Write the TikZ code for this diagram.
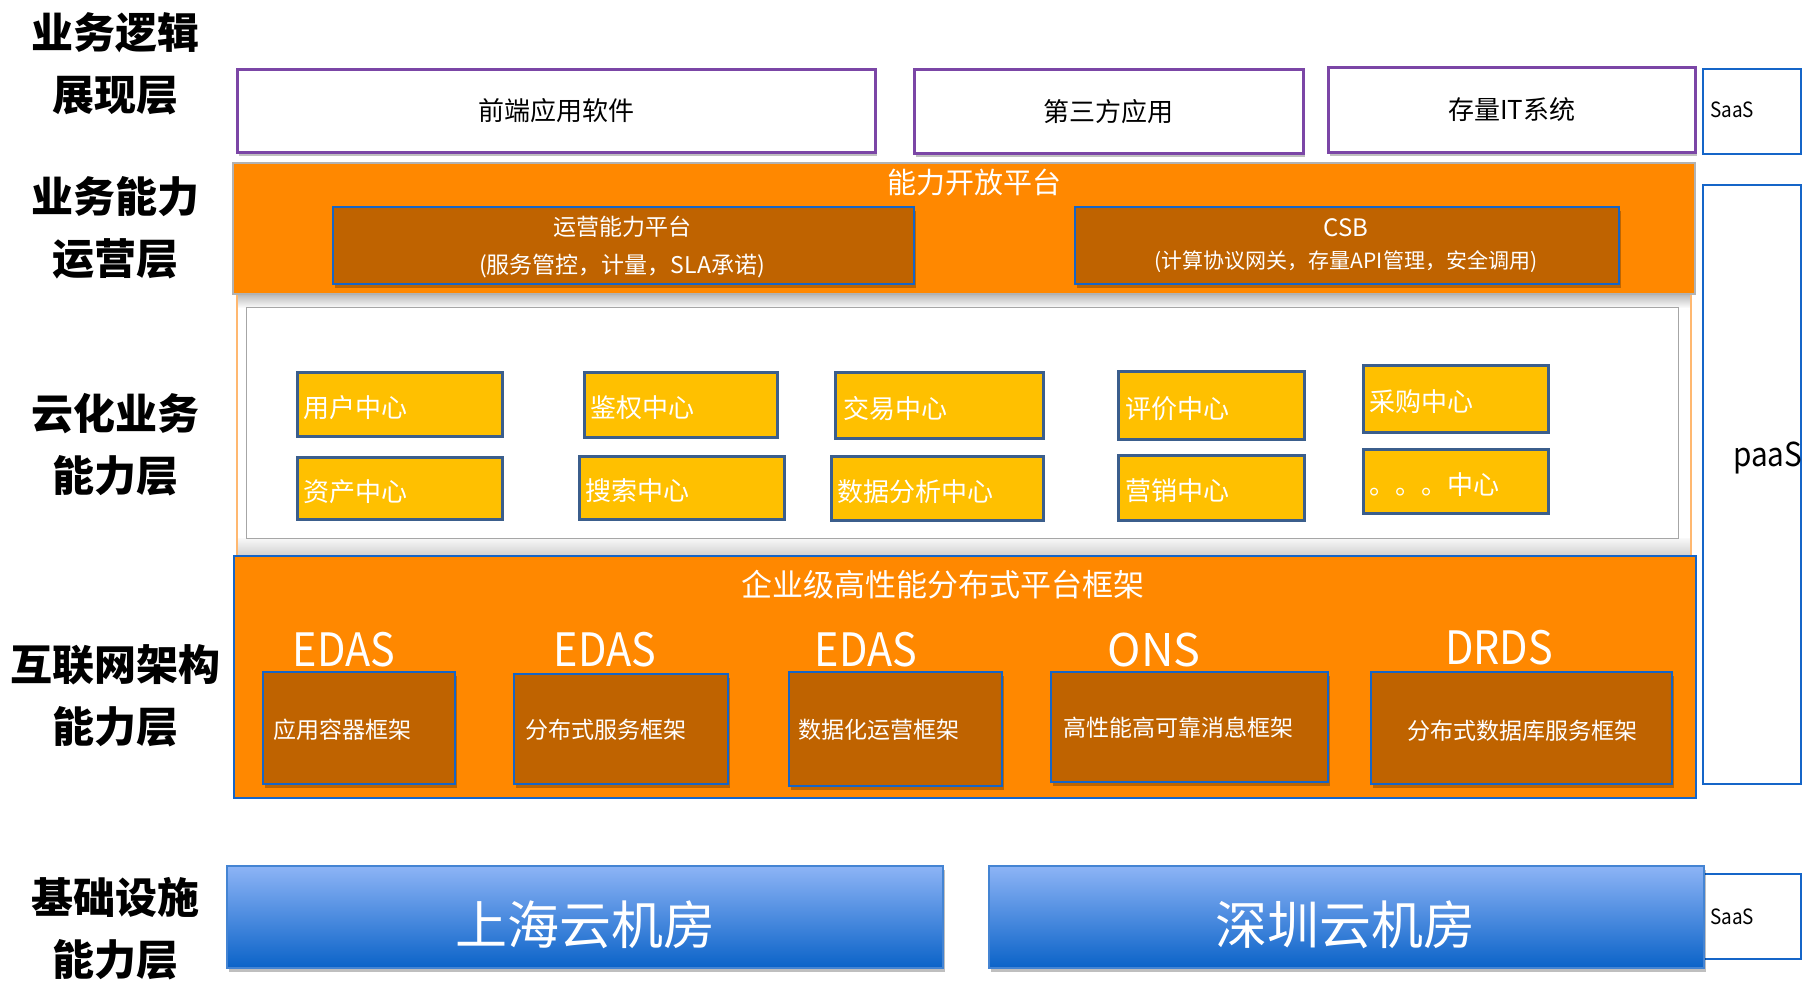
\documentclass[tikz,border=0pt]{standalone}
\usepackage{fontspec}
\setmainfont{Noto Sans CJK SC}
\newfontfamily\condf{Noto Sans CJK SC}[FakeStretch=0.9]
\usetikzlibrary{shadows}
\definecolor{orgA}{HTML}{FF8800}
\definecolor{orgD}{HTML}{BF6300}
\definecolor{ylw}{HTML}{FFC000}
\definecolor{ylwB}{HTML}{3B5E8C}
\definecolor{bluB}{HTML}{1565C8}
\definecolor{purB}{HTML}{7B46A6}
\definecolor{skyT}{HTML}{8DB4F6}
\definecolor{skyB}{HTML}{0B63C8}
\definecolor{lorg}{HTML}{FFB870}
\newcommand\fsz[1]{\fontsize{#1}{#1}\selectfont}
\begin{document}
\begin{tikzpicture}[x=1pt,y=-1pt,
  shd/.style={drop shadow={shadow xshift=2pt,shadow yshift=-4pt,opacity=0.25,fill=black}},
  lab/.style={font=\bfseries\fontsize{42}{62}\selectfont,align=center,inner sep=0pt},
  topbox/.style={draw=purB,line width=2.5pt,fill=white,inner sep=0pt,anchor=north west,font=\fsz{26},shd},
  sidebox/.style={draw=bluB,line width=2pt,fill=white,inner sep=0pt,anchor=north west},
  orgbox/.style={fill=orgA,inner sep=0pt,anchor=north west},
  darkbox/.style={fill=orgD,draw=bluB,line width=2pt,inner sep=0pt,anchor=north west,shd},
  ybox/.style={fill=ylw,draw=ylwB,line width=2.5pt,inner sep=0pt,anchor=north west},
  ytxt/.style={text=white,font=\fsz{26},inner sep=0pt,anchor=west},
  wtxt/.style={text=white,inner sep=0pt},
  btxt/.style={text=black,inner sep=0pt,anchor=west},
  roombox/.style={top color=skyT,bottom color=skyB,draw=bluB!80,line width=1.5pt,inner sep=0pt,anchor=north west,shd}
]
\useasboundingbox[fill=white] (0,0) rectangle (1805,983);

% left labels
\node[lab] (L1) at (115,64) {业务逻辑\\展现层};
\node[lab] (L2) at (115,228) {业务能力\\运营层};
\node[lab] (L3) at (115,445) {云化业务\\能力层};
\node[lab] (L4) at (115,696) {互联网架构\\能力层};
\node[lab] (L5) at (115,929) {基础设施\\能力层};

% top row
\node[topbox,minimum width=638pt,minimum height=83pt] (fe) at (236,68) {前端应用软件};
\node[topbox,minimum width=389pt,minimum height=84pt] (tp) at (913,68) {第三方应用};
\node[topbox,minimum width=367pt,minimum height=85pt] (it) at (1327,66) {存量IT系统};
\node[sidebox,minimum width=98pt,minimum height=85pt] (saasA) at (1702,68) {};
\node[btxt,font=\condf\fsz{21}] (saasAT) at (1710,110) {SaaS};

% side paaS box
\node[sidebox,minimum width=98pt,minimum height=599pt] (paas) at (1702,184) {};
\node[btxt,font=\condf\fsz{33}] (paasT) at (1733,458) {paaS};

% middle region
\fill[top color=gray!60,bottom color=gray!5] (236,293) rectangle (1690,307);
\fill[top color=gray!5,bottom color=gray!35] (236,538) rectangle (1690,555);
\node[draw=lorg,line width=2pt,minimum width=1454pt,minimum height=262pt,inner sep=0pt,anchor=north west] (mid) at (236,293) {};
\node[draw=gray!70,line width=1.2pt,fill=white,minimum width=1432pt,minimum height=231pt,inner sep=0pt,anchor=north west] (inner) at (246,307) {};

% open platform
\node[orgbox,draw=gray!60,line width=1.5pt,minimum width=1462pt,minimum height=131pt] (open) at (232,162) {};
\node[wtxt,font=\fsz{29}] (openT) at (974,182) {能力开放平台};
\node[darkbox,minimum width=581pt,minimum height=77pt] (ops) at (332,206) {};
\node[wtxt,font=\fsz{23}] (opsT1) at (622,227) {运营能力平台};
\node[wtxt,font=\fsz{23}] (opsT2) at (622,266) {(服务管控，计量，SLA承诺)};
\node[darkbox,minimum width=544pt,minimum height=77pt] (csb) at (1074,206) {};
\node[wtxt,font=\fsz{24}] (csbT1) at (1346,228) {CSB};
\node[wtxt,font=\fsz{21}] (csbT2) at (1346,262) {(计算协议网关，存量API管理，安全调用)};

% centers
\node[ybox,minimum width=205pt,minimum height=64pt] (c1) at (296,371) {};
\node[ytxt] (c1T) at ([xshift=7pt,yshift=-3pt]c1.west) {用户中心};
\node[ybox,minimum width=193pt,minimum height=65pt] (c2) at (583,371) {};
\node[ytxt] (c2T) at ([xshift=7pt,yshift=-3pt]c2.west) {鉴权中心};
\node[ybox,minimum width=208pt,minimum height=66pt] (c3) at (834,371) {};
\node[ytxt] (c3T) at ([xshift=9pt,yshift=-3pt]c3.west) {交易中心};
\node[ybox,minimum width=186pt,minimum height=68pt] (c4) at (1117,370) {};
\node[ytxt] (c4T) at ([xshift=8pt,yshift=-3pt]c4.west) {评价中心};
\node[ybox,minimum width=185pt,minimum height=67pt] (c5) at (1362,364) {};
\node[ytxt] (c5T) at ([xshift=7pt,yshift=-3pt]c5.west) {采购中心};
\node[ybox,minimum width=205pt,minimum height=62pt] (c6) at (296,456) {};
\node[ytxt] (c6T) at ([xshift=7pt,yshift=-3pt]c6.west) {资产中心};
\node[ybox,minimum width=205pt,minimum height=63pt] (c7) at (578,455) {};
\node[ytxt] (c7T) at ([xshift=7pt,yshift=-3pt]c7.west) {搜索中心};
\node[ybox,minimum width=212pt,minimum height=64pt] (c8) at (830,455) {};
\node[ytxt] (c8T) at ([xshift=7pt,yshift=-3pt]c8.west) {数据分析中心};
\node[ybox,minimum width=186pt,minimum height=65pt] (c9) at (1117,454) {};
\node[ytxt] (c9T) at ([xshift=8pt,yshift=-3pt]c9.west) {营销中心};
\node[ybox,minimum width=185pt,minimum height=64pt] (c10) at (1362,448) {};
\node[ytxt] (c10T) at ([xshift=7pt,yshift=-3pt]c10.west) {。。。中心};

% infrastructure framework
\node[orgbox,draw=bluB,line width=2pt,minimum width=1462pt,minimum height=242pt] (infra) at (233,555) {};
\node[wtxt,font=\fsz{31}] (infraT) at (943,585) {企业级高性能分布式平台框架};
\node[wtxt,font=\condf\fsz{46}] (e1) at (344,650) {EDAS};
\node[wtxt,font=\condf\fsz{46}] (e2) at (605,650) {EDAS};
\node[wtxt,font=\condf\fsz{46}] (e3) at (866,650) {EDAS};
\node[wtxt,font=\fsz{45}] (e4) at (1154,650) {ONS};
\node[wtxt,font=\condf\fsz{46}] (e5) at (1499,648) {DRDS};
\node[darkbox,minimum width=192pt,minimum height=112pt] (f1) at (262,671) {};
\node[darkbox,minimum width=214pt,minimum height=110pt] (f2) at (513,673) {};
\node[darkbox,minimum width=213pt,minimum height=114pt] (f3) at (788,671) {};
\node[darkbox,minimum width=277pt,minimum height=110pt] (f4) at (1050,671) {};
\node[darkbox,minimum width=301pt,minimum height=112pt] (f5) at (1370,671) {};
\node[wtxt,font=\fsz{23}] (f1T) at (342,730) {应用容器框架};
\node[wtxt,font=\fsz{23}] (f2T) at (606,730) {分布式服务框架};
\node[wtxt,font=\fsz{23}] (f3T) at (879,730) {数据化运营框架};
\node[wtxt,font=\fsz{23}] (f4T) at (1178,728) {高性能高可靠消息框架};
\node[wtxt,font=\fsz{23}] (f5T) at (1522,731) {分布式数据库服务框架};

% rooms
\node[sidebox,minimum width=97pt,minimum height=85pt] (saasB) at (1703,873) {};
\node[btxt,font=\condf\fsz{21}] (saasBT) at (1710,917) {SaaS};
\node[roombox,minimum width=716pt,minimum height=102pt] (sh) at (226,865) {};
\node[wtxt,font=\fsz{52}] (shT) at (585,925) {上海云机房};
\node[roombox,minimum width=715pt,minimum height=102pt] (sz) at (988,865) {};
\node[wtxt,font=\fsz{52}] (szT) at (1345,925) {深圳云机房};
\end{tikzpicture}
\end{document}
